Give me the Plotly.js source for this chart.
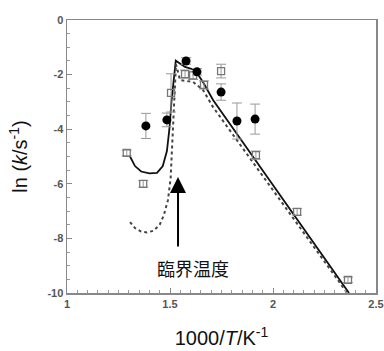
<!DOCTYPE html>
<html><head><meta charset="utf-8">
<script src="https://cdn.plot.ly/plotly-3.0.1.min.js"></script>
<style>html,body{margin:0;padding:0;background:#fff}#chart{width:384px;height:351px}</style>
</head><body><div id="chart"></div>
<script>
// Filled circles (experimental)
const circleX = [1.383, 1.485, 1.578, 1.631, 1.748, 1.825, 1.913];
const circleY = [-3.88, -3.66, -1.50, -1.90, -2.64, -3.70, -3.63];
const circleErr = [0.46, 0.25, 0.12, 0.12, 0.30, 0.66, 0.55];
// Open squares
const squareX = [1.29, 1.37, 1.505, 1.573, 1.612, 1.665, 1.748, 1.917, 2.117, 2.364];
const squareY = [-4.87, -6.0, -2.67, -1.98, -2.03, -2.38, -1.87, -4.95, -7.03, -9.52];
const squareErr = [0.10, 0.12, 0.70, 0.15, 0.15, 0.15, 0.25, 0.15, 0.12, 0.10];
// Solid model curve
const solidX = [1.306, 1.33, 1.36, 1.40, 1.437, 1.465, 1.485, 1.497, 1.507, 1.517, 1.528, 1.573, 1.621, 1.660, 1.709, 2.369];
const solidY = [-5.0, -5.35, -5.55, -5.62, -5.60, -5.35, -4.8, -4.0, -3.0, -2.2, -1.49, -1.72, -1.83, -2.27, -2.93, -10.0];
// Dotted model curve
const dotX = [1.306, 1.33, 1.36, 1.388, 1.42, 1.45, 1.47, 1.49, 1.503, 1.51, 1.517, 1.524, 1.529, 1.549, 1.612, 1.660, 1.709, 2.36];
const dotY = [-7.4, -7.62, -7.75, -7.78, -7.72, -7.5, -7.15, -6.6, -5.8, -4.8, -3.6, -2.4, -1.62, -2.2, -2.27, -2.56, -3.19, -10.0];
// Tick labels
const xTicks = [1, 1.5, 2, 2.5];
const xTickText = ['1', '1.5', '2', '2.5'];
const yTicks = [0, -2, -4, -6, -8, -10];
const yTickText = ['0', '-2', '-4', '-6', '-8', '-10'];
const arrowLabel = '臨界温度';

const traces = [
  {x: solidX, y: solidY, mode: 'lines', line: {color: '#111', width: 1.8}, hoverinfo: 'skip'},
  {x: dotX, y: dotY, mode: 'lines', line: {color: '#444', width: 2, dash: 'dot'}, hoverinfo: 'skip'},
  {x: squareX, y: squareY, mode: 'markers',
   marker: {symbol: 'square-open', size: 7, color: '#777', line: {width: 1.3}},
   error_y: {type: 'data', array: squareErr, visible: true, color: '#999', thickness: 1, width: 5}},
  {x: circleX, y: circleY, mode: 'markers',
   marker: {symbol: 'circle', size: 9, color: '#000'},
   error_y: {type: 'data', array: circleErr, visible: true, color: '#999', thickness: 1, width: 5}}
];

const tickFont = {family: 'Liberation Sans, Arial', size: 11, color: '#555', weight: 'bold'};
const layout = {
  width: 384, height: 351,
  margin: {l: 67, r: 8, t: 20, b: 58},
  paper_bgcolor: '#fff', plot_bgcolor: '#fff',
  showlegend: false,
  xaxis: {
    range: [1, 2.5], tickvals: xTicks, ticktext: xTickText,
    ticks: 'inside', ticklen: 5, tickcolor: '#888', tickwidth: 1,
    minor: {dtick: 0.05, ticks: 'inside', ticklen: 3, tickcolor: '#999', showgrid: false},
    showgrid: false, zeroline: false,
    showline: true, linecolor: '#888', linewidth: 1.5, mirror: true,
    tickfont: tickFont,
    title: {text: '1000/<i>T</i>/K<sup>-1</sup>', font: {family: 'Liberation Sans, Arial', size: 20, color: '#111'}, standoff: 22}
  },
  yaxis: {
    range: [-10, 0], tickvals: yTicks, ticktext: yTickText,
    ticks: 'inside', ticklen: 5, tickcolor: '#888', tickwidth: 1,
    minor: {dtick: 0.5, ticks: 'inside', ticklen: 3, tickcolor: '#999', showgrid: false},
    showgrid: false, zeroline: false,
    showline: true, linecolor: '#888', linewidth: 1.5, mirror: true,
    tickfont: tickFont,
    title: {text: 'ln (<i>k</i>/s<sup>-1</sup>)', font: {family: 'Liberation Sans, Arial', size: 20, color: '#111'}, standoff: 14}
  },
  annotations: [
    {x: 1.539, y: -5.75, ax: 1.539, ay: -8.35, axref: 'x', ayref: 'y', xref: 'x', yref: 'y',
     text: '', showarrow: true, arrowhead: 2, arrowsize: 1.6, arrowwidth: 2, arrowcolor: '#000'},
    {x: 1.61, y: -9.1, xref: 'x', yref: 'y', text: arrowLabel, showarrow: false,
     font: {family: 'Noto Sans CJK JP', size: 18, color: '#111'}}
  ]
};
Plotly.newPlot('chart', traces, layout, {displayModeBar: false, staticPlot: true});
</script></body></html>
